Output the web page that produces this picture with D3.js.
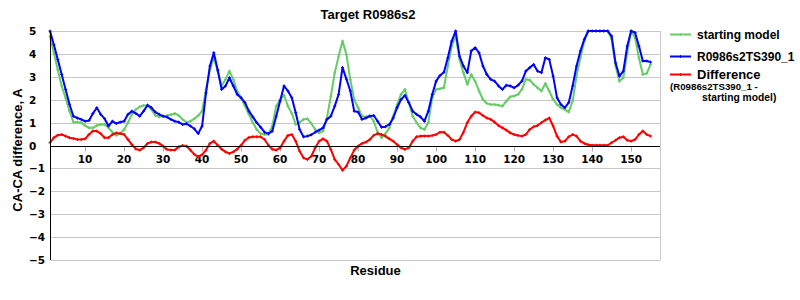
<!DOCTYPE html>
<html>
<head>
<meta charset="utf-8">
<script src="https://cdn.jsdelivr.net/npm/d3@7"></script>
<style>
  body { margin: 0; background: #fff; }
  svg { display: block; }
  .tick-lbl { font-family: "DejaVu Sans", sans-serif; font-weight: bold; font-size: 10.5px; fill: #000; }
  .axis-title { font-family: "Liberation Sans", Arial, sans-serif; font-weight: bold; font-size: 13px; fill: #000; }
  .lgd { font-family: "Liberation Sans", Arial, sans-serif; font-weight: bold; fill: #000; }
</style>
</head>
<body>
<div id="chart"></div>
<script>
// residue-by-residue CA-CA difference values
const startingModel = [
  4.78, 4.05, 3.3, 2.6, 2.08, 1.5, 1.02, 1.02, 1.0, 0.87,
  0.77, 0.77, 0.87, 0.92, 0.92, 0.77, 0.58, 0.44, 0.52, 0.7,
  1.0, 1.36, 1.57, 1.69, 1.75, 1.75, 1.57, 1.31, 1.25, 1.28,
  1.31, 1.34, 1.4, 1.31, 1.14, 1.0, 1.06, 1.17, 1.31, 1.5,
  2.45, 3.32, 3.83, 3.25, 2.6, 2.89, 3.25, 2.89, 2.38, 2.08,
  1.72, 1.36, 1.0, 0.7, 0.52, 0.48, 0.48, 0.85, 1.72, 2.0,
  2.2, 1.72, 1.4, 0.92, 1.0, 1.14, 1.17, 0.96, 0.7, 0.55,
  0.63, 1.2, 2.15, 3.17, 3.9, 4.56, 3.98, 2.87, 2.0, 1.65,
  1.28, 1.25, 1.31, 1.06, 0.58, 0.34, 0.52, 0.77, 1.28, 1.79,
  2.23, 2.45, 1.87, 1.28, 1.0, 0.77, 0.7, 1.0, 2.08, 2.45,
  2.48, 2.52, 3.47, 4.34, 4.81, 3.76, 3.18, 2.67, 3.1, 2.81,
  2.38, 2.01, 1.84, 1.79, 1.79, 1.76, 1.72, 1.94, 2.13, 2.16,
  2.23, 2.45, 2.89, 2.86, 2.67, 2.52, 2.38, 2.71, 2.38, 2.01,
  1.79, 1.65, 1.57, 1.46, 1.94, 3.03, 3.83, 4.56, 5.0, 5.0,
  5.0, 5.0, 5.0, 5.0, 4.64, 3.47, 2.81, 2.96, 4.05, 5.0,
  4.71, 3.83, 3.1, 3.15, 3.54
];
const model390 = [
  5.0, 4.4, 3.75, 3.1, 2.45, 1.8, 1.28, 1.2, 1.14, 1.06,
  1.09, 1.4, 1.65, 1.36, 1.17, 0.85, 1.06, 0.96, 1.02, 1.06,
  1.36, 1.5, 1.4, 1.28, 1.5, 1.76, 1.65, 1.46, 1.36, 1.28,
  1.24, 1.14, 1.06, 1.02, 0.92, 0.95, 0.85, 0.73, 0.52, 0.85,
  2.3, 3.47, 4.05, 3.3, 2.45, 2.6, 2.96, 2.6, 2.23, 2.08,
  1.87, 1.5, 1.25, 1.0, 0.8, 0.58, 0.52, 0.63, 1.28, 1.94,
  2.6, 2.38, 2.08, 1.43, 0.7, 0.38, 0.41, 0.47, 0.58, 0.67,
  0.77, 1.14, 1.28, 1.72, 2.23, 3.4, 2.9, 2.38, 1.5, 1.46,
  1.14, 1.2, 1.28, 1.31, 1.06, 0.8, 0.82, 0.92, 1.2, 1.65,
  2.01, 2.19, 1.87, 1.5, 1.36, 1.25, 1.06, 1.5, 2.23, 2.81,
  3.06, 3.2, 3.83, 4.56, 5.0, 3.9, 3.47, 3.18, 4.13, 4.27,
  4.05, 3.47, 3.1, 2.89, 2.81, 2.6, 2.45, 2.63, 2.6, 2.52,
  2.63, 2.81, 3.25, 3.4, 3.54, 3.25, 3.18, 3.83, 3.76, 3.03,
  2.08, 1.79, 1.65, 1.87, 2.6, 3.47, 4.13, 4.64, 5.0, 5.0,
  5.0, 5.0, 5.0, 5.0, 4.78, 3.61, 3.03, 3.25, 4.34, 5.0,
  4.93, 4.34, 3.69, 3.69, 3.64
];
const difference = [
  0.12, 0.34, 0.45, 0.48, 0.41, 0.34, 0.31, 0.26, 0.26, 0.29,
  0.48, 0.63, 0.63, 0.52, 0.34, 0.34, 0.48, 0.55, 0.52, 0.48,
  0.26, 0.04, -0.15, -0.2, -0.1, 0.09, 0.15, 0.15, 0.09, -0.03,
  -0.17, -0.2, -0.2, -0.06, 0, -0.03, -0.2, -0.39, -0.5, -0.4,
  -0.2, 0.09, 0.19, 0.01, -0.16, -0.28, -0.35, -0.28, -0.16, 0.01,
  0.23, 0.35, 0.38, 0.38, 0.38, 0.26, 0.01, -0.16, -0.2, -0.1,
  0.19, 0.44, 0.48, 0.19, -0.25, -0.54, -0.61, -0.47, -0.1, 0.19,
  0.29, 0.19, -0.17, -0.61, -0.83, -1.08, -0.9, -0.54, -0.2, -0.03,
  0.09, 0.15, 0.26, 0.44, 0.52, 0.48, 0.41, 0.29, 0.19, 0.04,
  -0.1, -0.17, -0.1, 0.19, 0.38, 0.41, 0.41, 0.41, 0.44, 0.48,
  0.58, 0.58, 0.44, 0.26, 0.19, 0.26, 0.58, 1.0, 1.28, 1.46,
  1.43, 1.31, 1.2, 1.14, 1.02, 0.87, 0.77, 0.67, 0.55, 0.48,
  0.44, 0.41, 0.48, 0.7, 0.82, 0.87, 1.0, 1.11, 1.2, 0.85,
  0.41, 0.15, 0.19, 0.38, 0.48, 0.41, 0.19, 0.09, 0.03, 0.01,
  0.01, 0.01, 0.01, 0.01, 0.12, 0.23, 0.34, 0.38, 0.23, 0.19,
  0.26, 0.48, 0.63, 0.48, 0.41
];
const xTicks = [10, 20, 30, 40, 50, 60, 70, 80, 90, 100, 110, 120, 130, 140, 150];
const yTicks = [5, 4, 3, 2, 1, 0, -1, -2, -3, -4, -5];

const series = [
  { name: "starting model", values: startingModel, color: "#66cc66" },
  { name: "R0986s2TS390_1", values: model390, color: "#0000ff" },
  { name: "Difference", values: difference, color: "#ff0000" }
];

const W = 800, H = 300;
const plot = { left: 50, right: 660, top: 31, bottom: 260 };

const svg = d3.select("#chart").append("svg")
  .attr("width", W).attr("height", H);

const x = d3.scaleLinear().domain([1, 157.4]).range([plot.left, plot.right]);
const y = d3.scaleLinear().domain([-5, 5]).range([plot.bottom, plot.top]);

// grid
svg.append("g").selectAll("line")
  .data(yTicks.filter(d => d !== 0))
  .join("line")
  .attr("x1", plot.left).attr("x2", plot.right)
  .attr("y1", d => Math.round(y(d)) + 0.5).attr("y2", d => Math.round(y(d)) + 0.5)
  .attr("stroke", "#c8c8c8").attr("stroke-width", 1);

svg.append("line")
  .attr("x1", plot.right + 0.5).attr("x2", plot.right + 0.5)
  .attr("y1", plot.top).attr("y2", plot.bottom)
  .attr("stroke", "#c8c8c8");

// x ticks hang below the zero line
const zeroY = Math.round(y(0)) + 0.5;
svg.append("g").selectAll("line")
  .data(xTicks)
  .join("line")
  .attr("x1", d => Math.round(x(d)) + 0.5).attr("x2", d => Math.round(x(d)) + 0.5)
  .attr("y1", zeroY).attr("y2", zeroY + 5)
  .attr("stroke", "#b0b0b0");

svg.append("g").selectAll("text")
  .data(xTicks)
  .join("text")
  .attr("class", "tick-lbl")
  .attr("x", d => x(d)).attr("y", 163)
  .attr("text-anchor", "middle")
  .text(d => d);

svg.append("g").selectAll("text")
  .data(yTicks)
  .join("text")
  .attr("class", "tick-lbl")
  .attr("x", 29).attr("y", d => y(d) + 4)
  .text(d => d < 0 ? "\u2212" + Math.abs(d) : d);

// series
const line = d3.line().x((d, i) => x(i + 1)).y(d => y(d));
series.forEach(s => {
  svg.append("path")
    .datum(s.values)
    .attr("fill", "none")
    .attr("stroke", s.color)
    .attr("stroke-width", 2)
    .attr("stroke-linejoin", "round")
    .attr("d", line);
  // tiny cross markers at every residue
  svg.append("path")
    .attr("fill", "none")
    .attr("stroke", s.color)
    .attr("stroke-width", 1)
    .attr("d", s.values.map((v, i) => {
      const px = x(i + 1), py = y(v);
      return `M${px - 1.5},${py}H${px + 1.5}M${px},${py - 1.5}V${py + 1.5}`;
    }).join(""));
});

// axes on top
svg.append("line")
  .attr("x1", plot.left).attr("x2", plot.right)
  .attr("y1", zeroY).attr("y2", zeroY)
  .attr("stroke", "#000");
svg.append("line")
  .attr("x1", plot.left + 0.5).attr("x2", plot.left + 0.5)
  .attr("y1", plot.top).attr("y2", plot.bottom)
  .attr("stroke", "#000");

// titles
svg.append("text")
  .attr("class", "lgd").attr("font-size", 13)
  .attr("x", 368).attr("y", 19).attr("text-anchor", "middle")
  .text("Target R0986s2");

svg.append("text")
  .attr("class", "axis-title")
  .attr("transform", "translate(22,150) rotate(-90)")
  .attr("text-anchor", "middle")
  .text("CA-CA difference, A");

svg.append("text")
  .attr("class", "axis-title")
  .attr("x", 375.5).attr("y", 275).attr("text-anchor", "middle")
  .text("Residue");

// legend
const legendRows = [
  { y: 34.5, size: 12, label: series[0].name, s: series[0] },
  { y: 56.5, size: 12, label: series[1].name, s: series[1] },
  { y: 74.5, size: 13, label: series[2].name, s: series[2] }
];
const lg = svg.append("g");
legendRows.forEach(r => {
  lg.append("line")
    .attr("x1", 670).attr("x2", 691)
    .attr("y1", r.y).attr("y2", r.y)
    .attr("stroke", r.s.color).attr("stroke-width", 2);
  lg.append("path")
    .attr("stroke", r.s.color).attr("stroke-width", 1)
    .attr("d", `M680.5,${r.y - 1.5}V${r.y + 1.5}`);
  lg.append("text")
    .attr("class", "lgd").attr("font-size", r.size)
    .attr("x", 697).attr("y", r.y + 4)
    .text(r.label);
});
lg.append("text")
  .attr("class", "lgd").attr("font-size", 9.7)
  .attr("x", 670).attr("y", 90)
  .text("(R0986s2TS390_1 -");
lg.append("text")
  .attr("class", "lgd").attr("font-size", 10.3)
  .attr("x", 702).attr("y", 100.5)
  .text("starting model)");
</script>
</body>
</html>
